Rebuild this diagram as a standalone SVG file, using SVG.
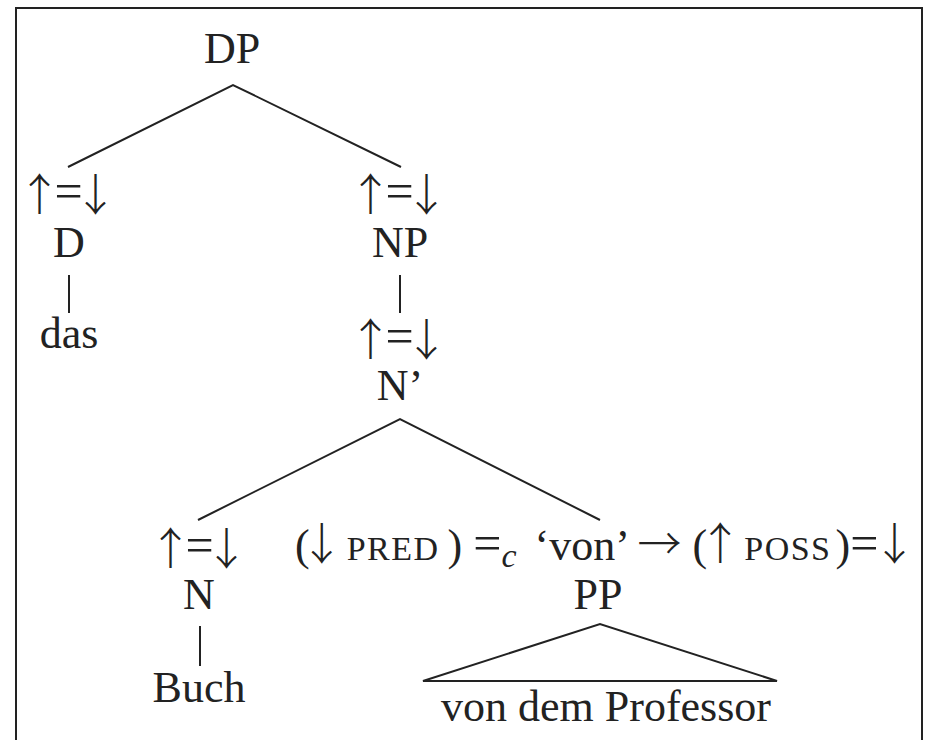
<svg xmlns="http://www.w3.org/2000/svg" width="927" height="740" viewBox="0 0 927 740">
<style>
text{font-family:"Liberation Serif","DejaVu Serif",serif;font-size:44px;fill:#222;text-anchor:middle}
.ann{text-anchor:start}
.ar{font-family:"Noto Sans CJK SC","Liberation Serif",sans-serif;font-weight:300}
.eq{font-size:50px}
.sc{font-size:34px;letter-spacing:1.5px}
.sub{font-style:italic;font-size:34px}
.e{stroke:#222;stroke-width:2;fill:none}
</style>
<rect width="927" height="740" fill="#fff"/>
<path d="M16,740 V8 H922 V740" fill="none" stroke="#222" stroke-width="2"/>
<g id="connectors">
<path class="e" d="M68,167 L233,85 L401,167"/>
<path class="e" d="M69,275 V313"/>
<path class="e" d="M400,275 V313"/>
<path class="e" d="M198,520 L400,419 L600,520"/>
<path class="e" d="M200,626 V666"/>
<path class="e" d="M423,681 L600,624 L777,681 Z"/>
</g>
<g id="DP"><text x="232" y="63">DP</text></g>
<g id="D"><text x="67.5" y="211"><tspan class="ar" letter-spacing="-7">↑</tspan><tspan class="eq" dy="-3" letter-spacing="-9">=</tspan><tspan class="ar" dy="3">↓</tspan></text><text x="69" y="257">D</text></g>
<g id="das"><text x="69" y="348">das</text></g>
<g id="NP"><text x="398.5" y="211"><tspan class="ar" letter-spacing="-7">↑</tspan><tspan class="eq" dy="-3" letter-spacing="-9">=</tspan><tspan class="ar" dy="3">↓</tspan></text><text x="400" y="257">NP</text></g>
<g id="Nbar"><text x="398.5" y="356"><tspan class="ar" letter-spacing="-7">↑</tspan><tspan class="eq" dy="-3" letter-spacing="-9">=</tspan><tspan class="ar" dy="3">↓</tspan></text><text x="400" y="400">N’</text></g>
<g id="N"><text x="198.5" y="565"><tspan class="ar" letter-spacing="-7">↑</tspan><tspan class="eq" dy="-3" letter-spacing="-9">=</tspan><tspan class="ar" dy="3">↓</tspan></text><text x="199" y="609">N</text></g>
<g id="Buch"><text x="199" y="702">Buch</text></g>
<g id="PP"><text class="ann" x="295" y="560"><tspan letter-spacing="-10">(</tspan><tspan class="ar" letter-spacing="-8">↓</tspan> <tspan class="sc">PRED</tspan><tspan dx="8">)</tspan> <tspan class="eq">=</tspan><tspan class="sub" dy="7">c</tspan><tspan dx="7" dy="-7"> ‘von’</tspan> <tspan class="ar">→</tspan> <tspan letter-spacing="-9">(</tspan><tspan class="ar" letter-spacing="-9">↑</tspan> <tspan class="sc">POSS</tspan><tspan dx="4">)</tspan><tspan class="eq" letter-spacing="-6">=</tspan><tspan class="ar">↓</tspan></text><text x="598" y="609">PP</text></g>
<g id="vdp"><text x="606" y="721">von dem Professor</text></g>
</svg>
